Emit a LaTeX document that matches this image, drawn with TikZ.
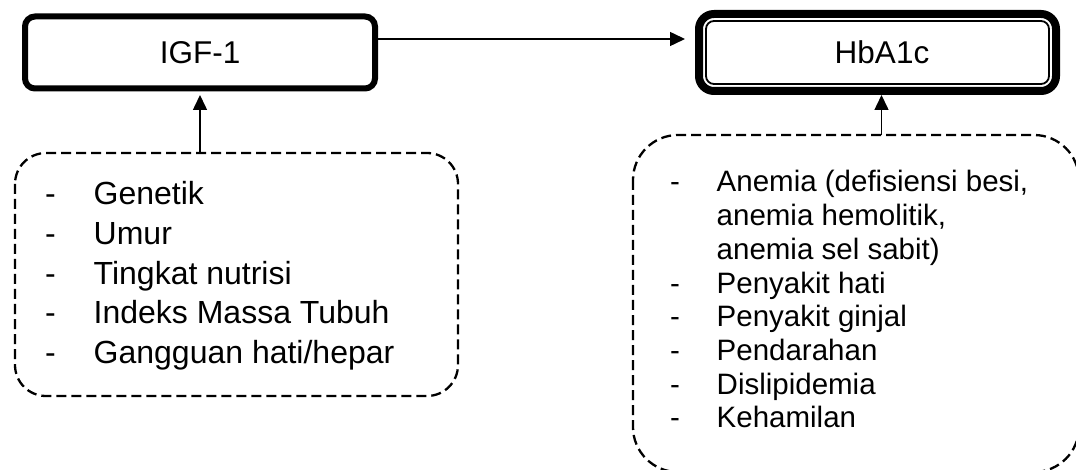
\documentclass[tikz,border=0pt]{standalone}
\usepackage{fontspec}
\setmainfont{Liberation Sans}
\usetikzlibrary{arrows.meta}
\newcommand\itemcomma{,}
\begin{document}
\begin{tikzpicture}[x=1pt,y=-1pt,
  boxlabel/.style={inner sep=0pt, font=\fontsize{31.5}{36}\selectfont},
  plainbox/.style={boxlabel, draw, line width=6pt, rounded corners=10pt,
    minimum width=350pt, minimum height=72pt},
  keybox/.style={boxlabel, draw, line width=8pt, rounded corners=15pt,
    minimum width=357pt, minimum height=77pt},
  factorbox/.style={draw, line width=2.3pt, dash pattern=on 10pt off 5pt},
  leftitem/.style={inner sep=0pt, anchor=base west, font=\fontsize{32}{38}\selectfont},
  rightitem/.style={inner sep=0pt, anchor=base west, font=\fontsize{29.5}{34}\selectfont},
  arr/.style={line width=1.5pt, -{Triangle[length=15pt, width=14pt]}}
]
\useasboundingbox (0,0) rectangle (1076,470);

% main boxes
\node[plainbox] (igf) at (200,52.5) {IGF-1};
\node[keybox] (hba) at (877.5,52.5) {\hspace*{9pt}\raisebox{-3.5pt}{HbA1c}};
\draw[line width=1.8pt, rounded corners=8pt]
  ([shift={(11,11)}]hba.north west) rectangle ([shift={(-11,-11)}]hba.south east);

% factor boxes
\begin{scope}
\clip (0,0) rectangle (1076,470);
\draw[factorbox, rounded corners=31pt] (15,153) rectangle (458,396);
\coordinate (factL) at (236.5,153);
\draw[factorbox, rounded corners=45pt] (633,135) rectangle (1079,472);
\coordinate (factR) at (856,135);
\end{scope}

% factors of IGF-1
\foreach \t [count=\i] in {Genetik, Umur, Tingkat nutrisi, Indeks Massa Tubuh, Gangguan hati/hepar} {
  \node[leftitem] (ld\i) at (45,{205+39.5*(\i-1)}) {-};
  \node[leftitem] (lt\i) at (93.5,{205+39.5*(\i-1)}) {\t};
}

% factors of HbA1c (the first one runs over three lines)
\foreach \t/\dsh [count=\i] in {Anemia (defisiensi besi\itemcomma/1,
    anemia hemolitik\itemcomma/0, anemia sel sabit)/0, Penyakit hati/1,
    Penyakit ginjal/1, Pendarahan/1, Dislipidemia/1, Kehamilan/1} {
  \ifnum\dsh=1
    \node[rightitem] (rd\i) at (670,{192+33.7*(\i-1)}) {-};
  \fi
  \node[rightitem] (rt\i) at (716.5,{192+33.7*(\i-1)}) {\t};
}

% connectors
\draw[arr, shorten >=10pt] ([yshift=13.5pt]igf.east) -- ([yshift=13.5pt]hba.west);
\draw[arr, shorten >=3.5pt] (factL -| igf.south) -- (igf.south);
\coordinate (hbafoot) at ([xshift=4pt]hba.south);
\draw[arr] (factR -| hbafoot) -- (hbafoot);
\end{tikzpicture}
\end{document}
